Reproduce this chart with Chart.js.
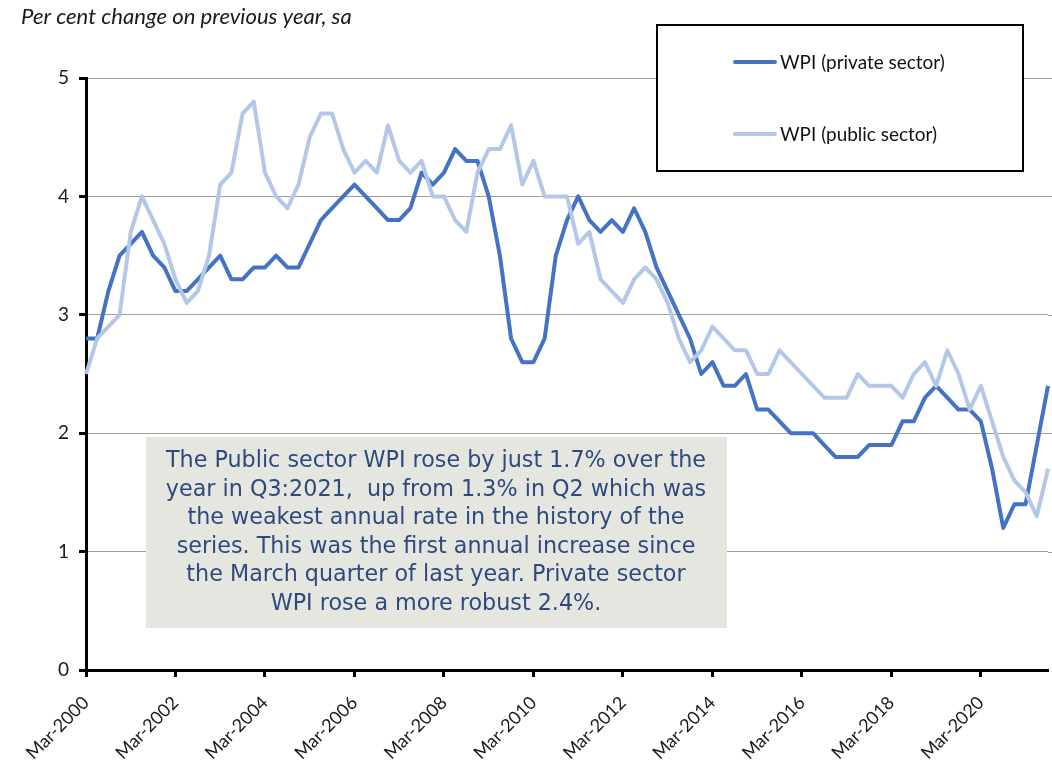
<!DOCTYPE html>
<html><head><meta charset="utf-8">
<script src="https://cdn.jsdelivr.net/npm/chart.js@4.4.0/dist/chart.umd.min.js"></script>
<style>html,body{margin:0;padding:0;background:#fff}#wrap{width:1052px;height:766px;position:relative}</style>
</head><body><div id="wrap"><canvas id="c" width="1052" height="766"></canvas></div>
<script>
const categories = [
 "Mar-2000","Jun-2000","Sep-2000","Dec-2000","Mar-2001","Jun-2001","Sep-2001","Dec-2001",
 "Mar-2002","Jun-2002","Sep-2002","Dec-2002","Mar-2003","Jun-2003","Sep-2003","Dec-2003",
 "Mar-2004","Jun-2004","Sep-2004","Dec-2004","Mar-2005","Jun-2005","Sep-2005","Dec-2005",
 "Mar-2006","Jun-2006","Sep-2006","Dec-2006","Mar-2007","Jun-2007","Sep-2007","Dec-2007",
 "Mar-2008","Jun-2008","Sep-2008","Dec-2008","Mar-2009","Jun-2009","Sep-2009","Dec-2009",
 "Mar-2010","Jun-2010","Sep-2010","Dec-2010","Mar-2011","Jun-2011","Sep-2011","Dec-2011",
 "Mar-2012","Jun-2012","Sep-2012","Dec-2012","Mar-2013","Jun-2013","Sep-2013","Dec-2013",
 "Mar-2014","Jun-2014","Sep-2014","Dec-2014","Mar-2015","Jun-2015","Sep-2015","Dec-2015",
 "Mar-2016","Jun-2016","Sep-2016","Dec-2016","Mar-2017","Jun-2017","Sep-2017","Dec-2017",
 "Mar-2018","Jun-2018","Sep-2018","Dec-2018","Mar-2019","Jun-2019","Sep-2019","Dec-2019",
 "Mar-2020","Jun-2020","Sep-2020","Dec-2020","Mar-2021","Jun-2021","Sep-2021"
];
const privateSector = [
 2.8,2.8,3.2,3.5,3.6,3.7,3.5,3.4,
 3.2,3.2,3.3,3.4,3.5,3.3,3.3,3.4,
 3.4,3.5,3.4,3.4,3.6,3.8,3.9,4.0,
 4.1,4.0,3.9,3.8,3.8,3.9,4.2,4.1,
 4.2,4.4,4.3,4.3,4.0,3.5,2.8,2.6,
 2.6,2.8,3.5,3.8,4.0,3.8,3.7,3.8,
 3.7,3.9,3.7,3.4,3.2,3.0,2.8,2.5,
 2.6,2.4,2.4,2.5,2.2,2.2,2.1,2.0,
 2.0,2.0,1.9,1.8,1.8,1.8,1.9,1.9,
 1.9,2.1,2.1,2.3,2.4,2.3,2.2,2.2,
 2.1,1.7,1.2,1.4,1.4,1.9,2.4
];
const publicSector = [
 2.5,2.8,2.9,3.0,3.7,4.0,3.8,3.6,
 3.3,3.1,3.2,3.5,4.1,4.2,4.7,4.8,
 4.2,4.0,3.9,4.1,4.5,4.7,4.7,4.4,
 4.2,4.3,4.2,4.6,4.3,4.2,4.3,4.0,
 4.0,3.8,3.7,4.2,4.4,4.4,4.6,4.1,
 4.3,4.0,4.0,4.0,3.6,3.7,3.3,3.2,
 3.1,3.3,3.4,3.3,3.1,2.8,2.6,2.7,
 2.9,2.8,2.7,2.7,2.5,2.5,2.7,2.6,
 2.5,2.4,2.3,2.3,2.3,2.5,2.4,2.4,
 2.4,2.3,2.5,2.6,2.4,2.7,2.5,2.2,
 2.4,2.1,1.8,1.6,1.5,1.3,1.7
];
const tickLabels = ["Mar-2000","Mar-2002","Mar-2004","Mar-2006","Mar-2008","Mar-2010","Mar-2012","Mar-2014","Mar-2016","Mar-2018","Mar-2020"];
const seriesNames = ["WPI (private sector)","WPI (public sector)"];
const yTicks = [0,1,2,3,4,5];
const titleText = "Per cent change on previous year, sa";
const noteLines = [
 "The Public sector WPI rose by just 1.7% over the",
 "year in Q3:2021,  up from 1.3% in Q2 which was",
 "the weakest annual rate in the history of the",
 "series. This was the first annual increase since",
 "the March quarter of last year. Private sector",
 "WPI rose a more robust 2.4%."
];

function fitFont(ctx, text, family, style, base, target){
  ctx.font = style + ' ' + base + 'px ' + family;
  const w = ctx.measureText(text).width;
  return base * target / w;
}

const extendGrid = {
  id:'extendGrid',
  beforeDatasetsDraw(chart){
    const ctx = chart.ctx, a = chart.chartArea, y = chart.scales.y;
    ctx.save();
    ctx.strokeStyle = '#9e9e9e'; ctx.lineWidth = 1;
    yTicks.forEach(v => {
      if (v === 0) return;
      const py = Math.round(y.getPixelForValue(v)) + 0.5;
      ctx.beginPath(); ctx.moveTo(a.right, py); ctx.lineTo(1052, py); ctx.stroke();
    });
    ctx.restore();
  }
};

const overlay = {
  id:'overlay',
  afterDraw(chart){
    const ctx = chart.ctx;
    ctx.save();
    let fs = fitFont(ctx, titleText, 'Lato', 'italic', 18, 331);
    ctx.font = 'italic ' + fs + 'px Lato';
    ctx.fillStyle = '#1a1a1a';
    ctx.textBaseline = 'middle';
    ctx.textAlign = 'left';
    ctx.fillText(titleText, 21, 17);

    ctx.fillStyle = '#ffffff';
    ctx.fillRect(657, 25, 366, 146);
    ctx.strokeStyle = '#000';
    ctx.lineWidth = 2;
    ctx.strokeRect(657, 25, 366, 146);
    const ly = [62, 134];
    const lf = fitFont(ctx, seriesNames[0], 'Lato', 'normal', 18, 165);
    chart.data.datasets.forEach((ds, i) => {
      ctx.strokeStyle = ds.borderColor;
      ctx.lineWidth = 4;
      ctx.lineCap = 'round';
      ctx.beginPath();
      ctx.moveTo(735, ly[i]); ctx.lineTo(775, ly[i]); ctx.stroke();
      ctx.fillStyle = '#111';
      ctx.font = lf + 'px Lato';
      ctx.textAlign = 'left';
      ctx.textBaseline = 'middle';
      ctx.fillText(ds.label, 780, ly[i] + 1);
    });

    ctx.fillStyle = '#E6E6E1';
    ctx.fillRect(146, 437, 581, 191);
    const base = 23;
    ctx.font = base + 'px "DejaVu Sans"';
    const w0 = ctx.measureText(noteLines[0]).width;
    const sx = 540 / w0;
    ctx.fillStyle = '#2E4A7D';
    ctx.textAlign = 'center';
    ctx.textBaseline = 'middle';
    noteLines.forEach((t, i) => {
      ctx.save();
      ctx.translate(436, 461 + i * 28.6);
      ctx.scale(sx, 1);
      ctx.fillText(t, 0, 0);
      ctx.restore();
    });
    ctx.restore();
  }
};

new Chart(document.getElementById('c'), {
  type: 'line',
  data: {
    labels: categories,
    datasets: [
      {label: seriesNames[0], data: privateSector, borderColor: '#4472C4', backgroundColor: '#4472C4', borderWidth: 4, pointRadius: 0, tension: 0, order: 1, borderJoinStyle: 'round'},
      {label: seriesNames[1], data: publicSector, borderColor: '#B4C7E7', backgroundColor: '#B4C7E7', borderWidth: 4, pointRadius: 0, tension: 0, order: 0, borderJoinStyle: 'round'}
    ]
  },
  options: {
    responsive: false,
    animation: false,
    devicePixelRatio: 1,
    layout: {padding: {left: 0, top: 78, right: 4, bottom: 0}},
    plugins: {legend: {display: false}, tooltip: {enabled: false}, title: {display: false}},
    scales: {
      x: {
        type: 'category',
        offset: false,
        afterFit(s){ s.height = 96; },
        border: {display: true, color: '#000', width: 3},
        grid: {drawOnChartArea: false, drawTicks: true, tickLength: 7, tickColor: '#000', tickWidth: 3},
        ticks: {
          autoSkip: false, maxRotation: 45, minRotation: 45, padding: 15,
          color: '#1a1a1a', font: {family: 'Lato', size: 18},
          callback(v, i){ const l = this.getLabelForValue(v); return tickLabels.includes(l) ? l : null; }
        }
      },
      y: {
        min: 0, max: 5,
        afterFit(s){ s.width = 86; },
        afterBuildTicks(s){ s.ticks = yTicks.map(v => ({value: v})); },
        border: {display: true, color: '#000', width: 3},
        grid: {color: '#9e9e9e', lineWidth: 1, drawTicks: true, tickLength: 7, tickColor: '#000', tickWidth: 3},
        ticks: {padding: 10, color: '#1a1a1a', font: {family: 'Lato', size: 19}}
      }
    }
  },
  plugins: [extendGrid, overlay]
});
</script></body></html>
